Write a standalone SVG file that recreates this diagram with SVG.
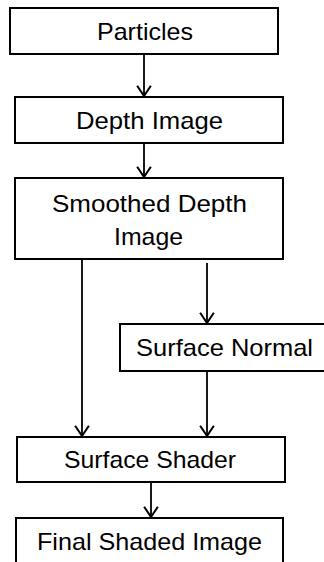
<svg xmlns="http://www.w3.org/2000/svg" width="324" height="562" viewBox="0 0 324 562">
<style>
.box{fill:#fff;stroke:#000;stroke-width:2}
.lbl{font-family:"Liberation Sans",Arial,sans-serif;font-size:24px;fill:#000;text-anchor:middle}
.edge{fill:none;stroke:#000;stroke-width:1.8}
</style>
<defs>
<marker id="arr" markerUnits="userSpaceOnUse" markerWidth="16" markerHeight="16" refX="10" refY="7" orient="auto" viewBox="0 0 12 14">
<path d="M1,1 L10,7 L1,13" fill="none" stroke="#000" stroke-width="1.8"/>
</marker>
</defs>
<rect width="324" height="562" fill="#fff"/>
<g id="connectors">
<line class="edge" x1="144" y1="54" x2="144" y2="96" marker-end="url(#arr)"/>
<line class="edge" x1="144" y1="143" x2="144" y2="177" marker-end="url(#arr)"/>
<line class="edge" x1="82" y1="259" x2="82" y2="436" marker-end="url(#arr)"/>
<line class="edge" x1="207" y1="263" x2="207" y2="323" marker-end="url(#arr)"/>
<line class="edge" x1="207" y1="371" x2="207" y2="436" marker-end="url(#arr)"/>
<line class="edge" x1="151" y1="482" x2="151" y2="517" marker-end="url(#arr)"/>
</g>
<g id="particles">
<rect class="box" x="10" y="8" width="268" height="46"/>
<text class="lbl" x="145" y="40" textLength="96" lengthAdjust="spacingAndGlyphs">Particles</text>
</g>
<g id="depth-image">
<rect class="box" x="15" y="97" width="268" height="46"/>
<text class="lbl" x="149.5" y="129" textLength="147" lengthAdjust="spacingAndGlyphs">Depth Image</text>
</g>
<g id="smoothed-depth-image">
<rect class="box" x="15" y="178" width="268" height="81"/>
<text class="lbl" x="149.5" y="212" textLength="195" lengthAdjust="spacingAndGlyphs">Smoothed Depth</text>
<text class="lbl" x="148.5" y="245" textLength="69" lengthAdjust="spacingAndGlyphs">Image</text>
</g>
<g id="surface-normal">
<rect class="box" x="120" y="324" width="215" height="47"/>
<text class="lbl" x="224.5" y="356" textLength="177" lengthAdjust="spacingAndGlyphs">Surface Normal</text>
</g>
<g id="surface-shader">
<rect class="box" x="17" y="437" width="268" height="45"/>
<text class="lbl" x="150" y="468" textLength="172" lengthAdjust="spacingAndGlyphs">Surface Shader</text>
</g>
<g id="final-shaded-image">
<rect class="box" x="16" y="518" width="267" height="60"/>
<text class="lbl" x="149.5" y="550" textLength="225" lengthAdjust="spacingAndGlyphs">Final Shaded Image</text>
</g>
</svg>
